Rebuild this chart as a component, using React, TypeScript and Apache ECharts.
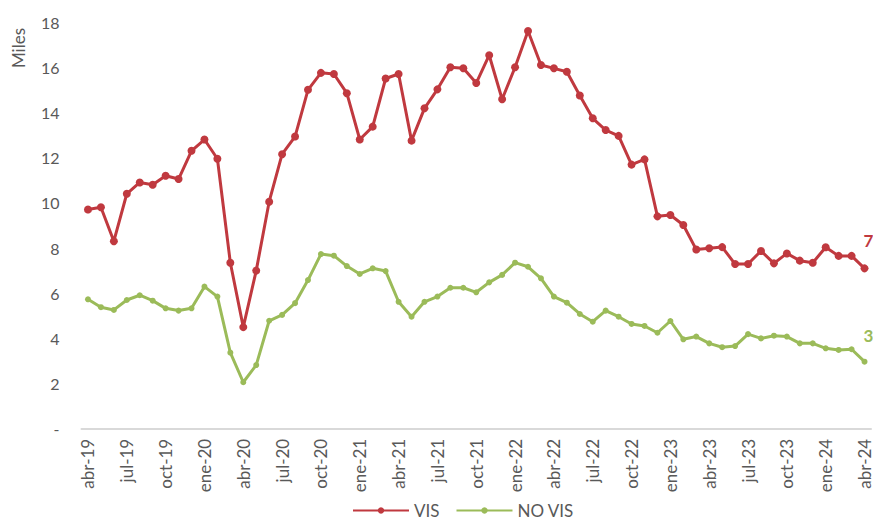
import React, { useEffect, useRef } from "react";
import * as echarts from "echarts";

const categories = [
  "abr-19", "may-19", "jun-19", "jul-19", "ago-19", "sep-19", "oct-19", "nov-19", "dic-19",
  "ene-20", "feb-20", "mar-20", "abr-20", "may-20", "jun-20", "jul-20", "ago-20", "sep-20", "oct-20", "nov-20", "dic-20",
  "ene-21", "feb-21", "mar-21", "abr-21", "may-21", "jun-21", "jul-21", "ago-21", "sep-21", "oct-21", "nov-21", "dic-21",
  "ene-22", "feb-22", "mar-22", "abr-22", "may-22", "jun-22", "jul-22", "ago-22", "sep-22", "oct-22", "nov-22", "dic-22",
  "ene-23", "feb-23", "mar-23", "abr-23", "may-23", "jun-23", "jul-23", "ago-23", "sep-23", "oct-23", "nov-23", "dic-23",
  "ene-24", "feb-24", "mar-24", "abr-24",
];

const visValues = [
  9.7, 9.8, 8.3, 10.4, 10.9, 10.8, 11.2, 11.05, 12.3, 12.8,
  11.95, 7.35, 4.5, 7.0, 10.05, 12.15, 12.93, 15.0, 15.75, 15.7,
  14.85, 12.8, 13.37, 15.5, 15.7, 12.75, 14.18, 15.02, 16.0, 15.95,
  15.3, 16.53, 14.58, 16.0, 17.6, 16.1, 15.95, 15.8, 14.75, 13.74,
  13.22, 12.96, 11.69, 11.92, 9.4, 9.46, 9.02, 7.93, 7.99, 8.04,
  7.29, 7.29, 7.87, 7.32, 7.76, 7.44, 7.35, 8.03, 7.65, 7.65,
  7.1,
];

const noVisValues = [
  5.73, 5.38, 5.26, 5.7, 5.91, 5.67, 5.33, 5.23, 5.33, 6.29,
  5.85, 3.37, 2.06, 2.82, 4.78, 5.04, 5.56, 6.58, 7.73, 7.66,
  7.2, 6.85, 7.1, 6.98, 5.62, 4.96, 5.62, 5.85, 6.24, 6.24,
  6.04, 6.48, 6.81, 7.35, 7.17, 6.66, 5.85, 5.58, 5.08, 4.74,
  5.23, 4.96, 4.64, 4.55, 4.25, 4.77, 3.96, 4.08, 3.78, 3.61,
  3.66, 4.19, 4.0, 4.12, 4.08, 3.78, 3.78, 3.56, 3.49, 3.52,
  2.97,
];

const visEndLabel = "7";
const noVisEndLabel = "3";

const RED = "#C0393F";
const GREEN = "#9BBB59";
const FONT = "Lato, 'Open Sans', sans-serif";

function withEndLabel(values: number[], text: string, color: string) {
  return values.map((v, i) =>
    i === values.length - 1
      ? {
          value: v,
          label: {
            show: true,
            formatter: text,
            position: "top",
            offset: [4, -10],
            color,
            fontSize: 17,
            fontWeight: "bold",
            fontFamily: FONT,
          },
        }
      : v
  );
}

export default function App() {
  const ref = useRef<HTMLDivElement>(null);

  useEffect(() => {
    document.body.style.margin = "0";
    if (!ref.current) return;
    const chart = echarts.init(ref.current, undefined, { renderer: "svg" });
    chart.setOption({
      animation: false,
      backgroundColor: "#ffffff",
      textStyle: { fontFamily: FONT },
      grid: { left: 81.5, top: 22, width: 793, bottom: 92.2, containLabel: false },
      legend: {
        left: 352,
        top: 502,
        itemWidth: 56,
        itemHeight: 8,
        itemGap: 16,
        padding: 0,
        textStyle: { color: "#595959", fontSize: 17, fontFamily: FONT },
        data: ["VIS", "NO VIS"],
      },
      graphic: [
        {
          type: "text",
          x: 10,
          y: 28,
          rotation: Math.PI / 2,
          originX: 0,
          originY: 0,
          style: {
            text: "Miles",
            fill: "#595959",
            fontSize: 17,
            fontFamily: FONT,
            align: "right",
            verticalAlign: "top",
          },
        },
      ],
      xAxis: {
        type: "category",
        data: categories,
        boundaryGap: true,
        axisLine: { show: true, lineStyle: { color: "#D9D9D9", width: 2 } },
        axisTick: { show: false },
        axisLabel: {
          interval: 2,
          rotate: 90,
          margin: 10,
          color: "#595959",
          fontSize: 17,
          fontFamily: FONT,
        },
        splitLine: { show: false },
      },
      yAxis: {
        type: "value",
        min: 0,
        max: 18,
        interval: 2,
        axisLine: { show: false },
        axisTick: { show: false },
        splitLine: { show: false },
        axisLabel: {
          margin: 22,
          color: "#595959",
          fontSize: 16,
          fontFamily: FONT,
          formatter: (v: number) => (v === 0 ? "-" : String(v)),
        },
      },
      series: [
        {
          name: "VIS",
          type: "line",
          data: withEndLabel(visValues, visEndLabel, RED),
          symbol: "circle",
          symbolSize: 8,
          lineStyle: { color: RED, width: 3 },
          itemStyle: { color: RED },
        },
        {
          name: "NO VIS",
          type: "line",
          data: withEndLabel(noVisValues, noVisEndLabel, GREEN),
          symbol: "circle",
          symbolSize: 6,
          lineStyle: { color: GREEN, width: 3 },
          itemStyle: { color: GREEN },
        },
      ],
    });
    return () => chart.dispose();
  }, []);

  return <div ref={ref} style={{ width: 873, height: 521 }} />;
}
